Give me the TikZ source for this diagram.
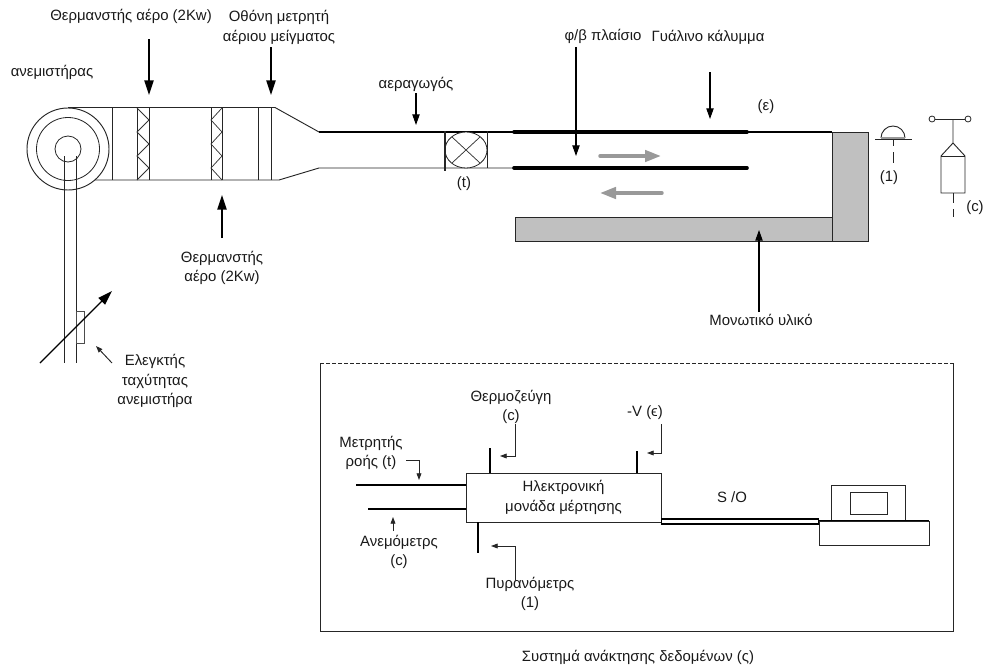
\documentclass[tikz,border=0pt]{standalone}
\usepackage{fontspec}
\setmainfont{Liberation Sans}
\usetikzlibrary{arrows.meta,shapes.geometric}
\definecolor{insul}{HTML}{C0C0C0}
\definecolor{flowgray}{HTML}{999999}
\tikzset{
 lbl/.style={inner sep=0pt,align=center,font=\fontsize{11.2pt}{14.6pt}\selectfont,text=black!90},
 ln/.style={draw=black!85,line width=0.7pt},
 thin ln/.style={draw=black!80,line width=0.55pt},
 thick ln/.style={draw=black,line width=1.05pt},
 heavy/.style={draw=black,line width=2.7pt,line cap=round},
 bigarrow/.style={draw=black,line width=1.05pt,-{Triangle[length=11pt,width=7pt]}},
 midarrow/.style={draw=black,line width=0.8pt,-{Triangle[length=8pt,width=5.5pt]}},
 smallarrow/.style={draw=black!85,line width=0.6pt,-{Triangle[length=5pt,width=3.6pt]}},
 flow/.style={draw=flowgray,line width=2.6pt,line cap=round,-{Triangle[length=12pt,width=8.5pt]}},
}
\begin{document}
\begin{tikzpicture}[x=0.75pt,y=-0.75pt]
\useasboundingbox (0,0) rectangle (985,671);
% insulation
\fill[insul] (515,217) -- (832,217) -- (832,132) -- (868,132) -- (868,241) -- (515,241) -- cycle;
\draw[ln] (515,217) -- (832,217) -- (832,132) -- (868,132) -- (868,241) -- (515,241) -- (515,217);
\draw[ln] (832,217) -- (832,241);
% fan and duct
\draw[ln] (68,107.5) -- (275,107.5) -- (319,132);
\draw[ln] (92,180) -- (279,180) -- (319,168) -- (514,168);
\draw[thick ln] (319,132) -- (832,132);
\node[circle,draw=black!85,line width=0.7pt,fill=white,minimum size=61.5pt,inner sep=0pt] (fanouter) at (68,149) {};
\node[circle,draw=black!85,line width=0.6pt,minimum size=47.25pt,inner sep=0pt] (fanmid) at (68,149) {};
\node[circle,draw=black!85,line width=0.6pt,minimum size=19.5pt,inner sep=0pt] (fanhub) at (68,149) {};
% duct sections
\foreach \x in {112.5,137,149,211,222,258.5,271}{\draw[ln] (\x,107.5) -- (\x,180);}
\draw[thin ln] (137,108) -- (149,120) -- (137,132) -- (149,144) -- (137,156) -- (149,168) -- (137,180);
\draw[thin ln] (222,108) -- (211,120) -- (222,132) -- (211,144) -- (222,156) -- (211,168) -- (222,180);
% fan belt and controller
\draw[ln] (64,156) -- (64,363);
\draw[ln] (76,156) -- (76,363);
\node[draw=black!70,line width=0.6pt,minimum width=6pt,minimum height=24pt,inner sep=0pt] (ctrl) at (80,327) {};
\coordinate (sl1) at (40,363); \coordinate (sl2) at (112,291);
\draw[bigarrow] (sl1) -- (sl2);
% flow meter
\node[ellipse,draw=black!85,line width=0.6pt,minimum width=31.5pt,minimum height=27pt,inner sep=0pt,fill=white] (fm) at (466,150) {};
\draw[thin ln] (452,137) -- (480,163) (480,137) -- (452,163);
\draw[ln,line width=0.9pt] (445,131) -- (445,171);
\draw[ln] (487.5,131) -- (487.5,168);
% absorber
\draw[heavy] (514,132) -- (747,132);
\draw[heavy] (514,168) -- (747,168);
\coordinate (f1a) at (600,156); \coordinate (f1b) at (661,156);
\coordinate (f2a) at (662,193); \coordinate (f2b) at (600,193);
\draw[flow] (f1a) -- (f1b);
\draw[flow] (f2a) -- (f2b);
% pyranometer
\draw[ln] (875,139) -- (912,139);
\draw[ln] (881,138) arc[start angle=180,end angle=360,x radius=12,y radius=12];
\draw[draw=flowgray,line width=1pt] (881,138) -- (905,138);
\draw[ln] (893,140) -- (893,146) (893,152) -- (893,163);
% thermocouple
\node[circle,draw=black!85,line width=0.6pt,minimum size=4.5pt,inner sep=0pt] (tc1) at (932,119) {};
\node[circle,draw=black!85,line width=0.6pt,minimum size=4.5pt,inner sep=0pt] (tc2) at (968,119) {};
\draw[ln] (tc1) -- (tc2);
\draw[ln] (953,119) -- (953,143) -- (941,156) -- (941,193) -- (965,193) -- (965,156) -- (953,143);
\draw[ln] (941,156) -- (965,156);
\draw[ln] (953,193) -- (953,203) (953,209) -- (953,217);
% top labels
\node[lbl] (l1) at (131,16) {Θερμανστής αέρο (2Kw)};
\node[lbl] (l2) at (279,27.5) {Οθόνη μετρητή\\αέριου μείγματος};
\node[lbl] (l3) at (52,72) {ανεμιστήρας};
\node[lbl] (l4) at (416,84) {αεραγωγός};
\node[lbl] (l5) at (603,36) {φ/β πλαίσιο};
\node[lbl] (l6) at (708,37) {Γυάλινο κάλυμμα};
\node[lbl] (l7) at (766,107) {(ε)};
\node[lbl] (l8) at (464,184) {(t)};
\node[lbl] (l9) at (889,178) {(1)};
\node[lbl] (l10) at (975,208) {(c)};
\node[lbl] (l11) at (222,268) {Θερμανστής\\αέρο (2Kw)};
\node[lbl] (l12) at (761,320) {Μονωτικό υλικό};
\node[lbl] (l13) at (155,381) {Ελεγκτής\\ταχύτητας\\ανεμιστήρα};
\coordinate (a1) at (149,39); \coordinate (a1e) at (149,95);
\coordinate (a2) at (271,47); \coordinate (a2e) at (271,95);
\coordinate (a3) at (222,238); \coordinate (a3e) at (222,195);
\coordinate (a4) at (416,93); \coordinate (a4e) at (416,125);
\coordinate (a5) at (576,47); \coordinate (a5e) at (576,156);
\coordinate (a6) at (710,72); \coordinate (a6e) at (710,119);
\coordinate (a7) at (759,312); \coordinate (a7e) at (759,230);
\coordinate (a8) at (112,363); \coordinate (a8e) at (96,346);
\draw[bigarrow] (a1) -- (a1e);
\draw[bigarrow] (a2) -- (a2e);
\draw[bigarrow] (a3) -- (a3e);
\draw[midarrow] (a4) -- (a4e);
\draw[midarrow] (a5) -- (a5e);
\draw[midarrow] (a6) -- (a6e);
\draw[midarrow] (a7) -- (a7e);
\draw[smallarrow,line width=0.7pt] (a8) -- (a8e);
% data acquisition box
\draw[draw=black!85,line width=0.6pt,dashed,dash pattern=on 3pt off 1.5pt] (320,363) -- (953,363);
\draw[draw=black!85,line width=0.7pt] (953,363) -- (953,631) -- (320,631) -- (320,363);
\node[draw=black!85,line width=0.7pt,minimum width=146.25pt,minimum height=36.75pt,inner sep=0pt,lbl] (emu) at (563.5,497.5) {Ηλεκτρονική\\μονάδα μέρτησης};
\coordinate (w1) at (356,485); \coordinate (w1e) at (466,485);
\coordinate (w2) at (368,509); \coordinate (w2e) at (466,509);
\draw[thick ln] (w1) -- (w1e);
\draw[thick ln] (w2) -- (w2e);
\draw[thick ln] (490,473) -- (490,448);
\draw[thick ln] (637,473) -- (637,451);
\draw[thick ln] (478,522) -- (478,553);
\node[lbl] (m1) at (371,453) {Μετρητής\\ροής (t)};
\node[lbl] (m2) at (511,407) {Θερμοζεύγη\\(c)};
\node[lbl] (m3) at (645,413) {-V (ϵ)};
\node[lbl] (m4) at (399,552) {Ανεμόμετρς\\(c)};
\node[lbl] (m5) at (530,594) {Πυρανόμετρς\\(1)};
\node[lbl] (m6) at (732,497) {S /O};
\node[lbl] (m7) at (638,657) {Συστημά ανάκτησης δεδομένων (ς)};
\coordinate (s1) at (406,460); \coordinate (s1m) at (419,460); \coordinate (s1e) at (419,480);
\coordinate (s2) at (393,531); \coordinate (s2e) at (393,517);
\coordinate (s3) at (515,424); \coordinate (s3m) at (515,456); \coordinate (s3e) at (500,456);
\coordinate (s4) at (661,424); \coordinate (s4m) at (661,453); \coordinate (s4e) at (647,453);
\coordinate (s5) at (515,581); \coordinate (s5m) at (515,546); \coordinate (s5e) at (491,546);
\draw[smallarrow] (s1) -- (s1m) -- (s1e);
\draw[smallarrow] (s2) -- (s2e);
\draw[smallarrow] (s3) -- (s3m) -- (s3e);
\draw[smallarrow] (s4) -- (s4m) -- (s4e);
\draw[smallarrow] (s5) -- (s5m) -- (s5e);
% cable and computer
\node[draw=black,line width=1pt,minimum width=118pt,minimum height=3.6pt,inner sep=0pt] (cable) at (740,521.5) {};
\node[draw=black!85,line width=0.7pt,minimum width=82.5pt,minimum height=18.5pt,inner sep=0pt] (base) at (874,533.5) {};
\node[draw=black!85,line width=0.7pt,minimum width=55.5pt,minimum height=27pt,inner sep=0pt] (screen) at (868,503) {};
\node[draw=black!85,line width=0.7pt,minimum width=27.75pt,minimum height=16.5pt,inner sep=0pt] (inner) at (868.5,503) {};
\draw[thick ln] (base.north west) -- (base.north east);
\end{tikzpicture}
\end{document}
